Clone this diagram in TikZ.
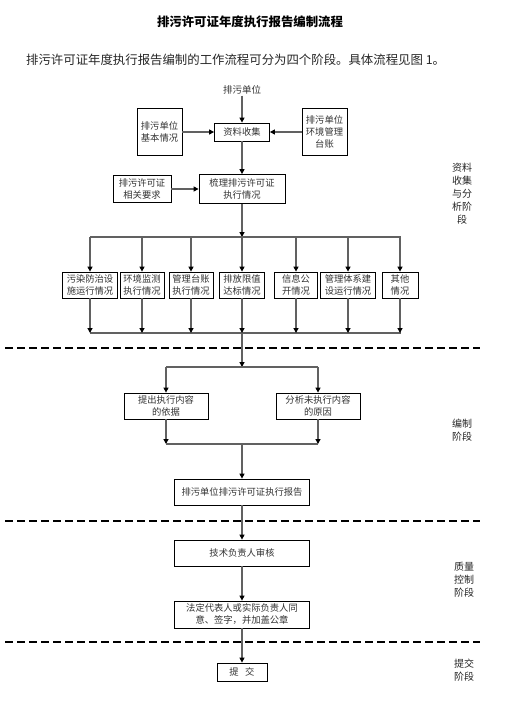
\documentclass[tikz,border=0pt]{standalone}
\usepackage{fontspec}
\setmainfont{Liberation Serif}
\newfontfamily\cjk{Noto Sans CJK SC}
\usetikzlibrary{arrows.meta}
\begin{document}
\begin{tikzpicture}[x=1pt,y=-1pt,
  box/.style={draw=black,line width=0.8pt,fill=white,inner sep=0pt,align=center,
    font=\cjk\fontsize{9.3}{12}\selectfont,text=black!80},
  conn/.style={draw=black!62,line width=1.3pt},
  arr/.style={conn,-{Triangle[width=5pt,length=5pt,color=black]}},
  divider/.style={draw=black,line width=1.8pt,dash pattern=on 8pt off 4pt},
  side/.style={align=center,font=\cjk\fontsize{10}{13}\selectfont,text=black!85}]
\fill[white] (0,0) rectangle (505,710);
\useasboundingbox (0,0) rectangle (505,710);

% title and intro
\node[font=\cjk\bfseries\fontsize{12.4}{14}\selectfont] (title) at (250,22) {排污许可证年度执行报告编制流程};
\node[anchor=west,inner sep=0pt,font=\cjk\fontsize{12.4}{14}\selectfont,text=black!85] (intro) at (26,60) {排污许可证年度执行报告编制的工作流程可分为四个阶段。具体流程见图 1。};

% dividers
\coordinate (d1l) at (5,348); \coordinate (d1r) at (480,348);
\coordinate (d2l) at (5,521); \coordinate (d2r) at (480,521);
\coordinate (d3l) at (5,642); \coordinate (d3r) at (480,642);
\draw[divider] (d1l) -- (d1r);
\draw[divider] (d2l) -- (d2r);
\draw[divider] (d3l) -- (d3r);

% top part
\node[inner sep=1pt,font=\cjk\fontsize{9.5}{12}\selectfont,text=black!80] (top) at (242,90) {排污单位};
\node[box,minimum width=55pt,minimum height=18pt] (zl) at (242,132) {资料收集};
\node[box,minimum width=45pt,minimum height=47pt] (jb) at (159.5,132) {排污单位\\基本情况};
\node[box,minimum width=45pt,minimum height=47pt] (hj) at (324.5,132) {排污单位\\环境管理\\台账};
\node[box,minimum width=58pt,minimum height=27pt] (xg) at (142,189) {排污许可证\\相关要求};
\node[box,minimum width=86pt,minimum height=29pt] (sl) at (242,189) {梳理排污许可证\\执行情况};

\draw[arr] (top.south) -- (zl.north);
\draw[arr] (jb.east) -- (zl.west);
\draw[arr] (hj.west) -- (zl.east);
\draw[arr] (zl.south) -- (sl.north);
\draw[arr] (xg.east) -- (sl.west);

% row of seven boxes
\coordinate (bus1c) at (242,237);
\coordinate (bus1l) at (90,237);
\coordinate (bus1r) at (401,237);
\coordinate (bus2c) at (242,333);
\coordinate (bus2l) at (90,333);
\coordinate (bus2r) at (401,333);
\node[box,minimum width=55pt,minimum height=26pt] (b1) at (90,285) {污染防治设\\施运行情况};
\node[box,minimum width=44pt,minimum height=26pt] (b2) at (142,285) {环境监测\\执行情况};
\node[box,minimum width=44pt,minimum height=26pt] (b3) at (191,285) {管理台账\\执行情况};
\node[box,minimum width=45pt,minimum height=26pt] (b4) at (242,285) {排放限值\\达标情况};
\node[box,minimum width=43pt,minimum height=26pt] (b5) at (296,285) {信息公\\开情况};
\node[box,minimum width=55pt,minimum height=26pt] (b6) at (348,285) {管理体系建\\设运行情况};
\node[box,minimum width=36pt,minimum height=26pt] (b7) at (400,285) {其他\\情况};

\draw[arr] (sl.south) -- (bus1c);
\draw[conn] (bus1l) -- (bus1r);
\draw[conn] (bus2l) -- (bus2r);
\foreach \b in {b1,b2,b3,b4,b5,b6,b7}{
  \draw[arr] (\b.north |- bus1c) -- (\b.north);
  \draw[arr] (\b.south) -- (\b.south |- bus2c);
}

% compilation stage
\coordinate (bus3c) at (242,367);
\coordinate (bus4c) at (242,444);
\node[box,minimum width=84pt,minimum height=26pt] (tc) at (166,406) {提出执行内容\\的依据};
\node[box,minimum width=84pt,minimum height=26pt] (fx) at (318,406) {分析未执行内容\\的原因};
\node[box,minimum width=135pt,minimum height=26pt] (bg) at (242,492) {排污单位排污许可证执行报告};

\draw[arr] (bus2c) -- (bus3c);
\draw[conn] (tc.north |- bus3c) -- (fx.north |- bus3c);
\draw[arr] (tc.north |- bus3c) -- (tc.north);
\draw[arr] (fx.north |- bus3c) -- (fx.north);
\draw[arr] (tc.south) -- (tc.south |- bus4c);
\draw[arr] (fx.south) -- (fx.south |- bus4c);
\draw[conn] (tc.south |- bus4c) -- (fx.south |- bus4c);
\draw[arr] (bus4c) -- (bg.north);

% quality control and submission
\node[box,minimum width=135pt,minimum height=26pt] (js) at (242,553) {技术负责人审核};
\node[box,minimum width=135pt,minimum height=27pt] (fd) at (242,614.5) {法定代表人或实际负责人同\\意、签字，并加盖公章};
\node[box,minimum width=50pt,minimum height=18pt] (tj) at (242,672) {提\hspace{0.7em}交};

\draw[arr] (bg.south) -- (js.north);
\draw[arr] (js.south) -- (fd.north);
\draw[arr] (fd.south) -- (tj.north);

% stage labels
\node[side] (s1) at (462,194) {资料\\收集\\与分\\析阶\\段};
\node[side] (s2) at (462,430) {编制\\阶段};
\node[side] (s3) at (464,580) {质量\\控制\\阶段};
\node[side] (s4) at (464,670) {提交\\阶段};
\end{tikzpicture}
\end{document}
